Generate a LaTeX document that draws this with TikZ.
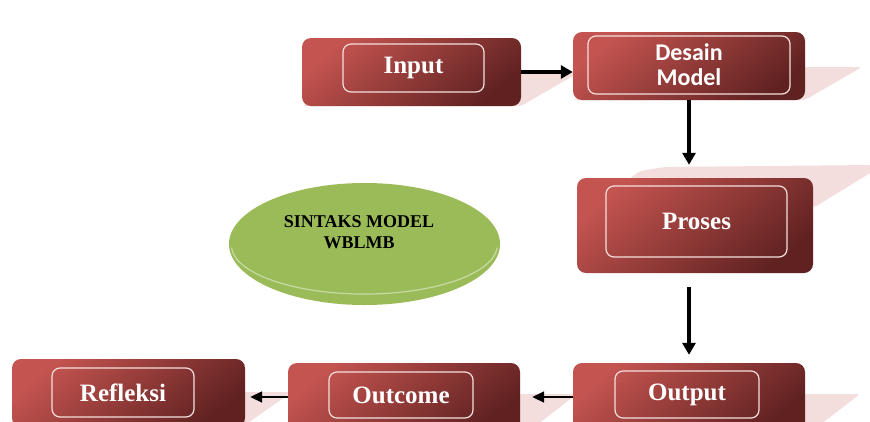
\documentclass[tikz,border=0pt]{standalone}
\usepackage{fontspec}
\setmainfont{Liberation Serif}
\newfontfamily\calib{Carlito}
\usetikzlibrary{arrows.meta,calc,shapes.geometric}
\definecolor{redA}{RGB}{196,84,80}
\definecolor{redB}{RGB}{96,34,33}
\definecolor{shd}{RGB}{244,222,221}
\definecolor{innerline}{RGB}{244,224,222}
\definecolor{grn}{RGB}{155,187,89}
\begin{document}
\begin{tikzpicture}[x=1pt,y=-1pt,
  outerbox/.style={rectangle,draw=none,rounded corners=9pt,top color=redA,bottom color=redB,shading angle=40,inner sep=0pt},
  innerbox/.style={rectangle,draw=innerline,line width=1.2pt,rounded corners=8pt,inner sep=0pt,text=white,font=\bfseries\fontsize{25}{25}\selectfont},
  shadowshape/.style={fill=shd,draw=none,rounded corners=3pt},
  arr/.style={line width=3.5pt,-{Triangle[length=12pt,width=13pt]}},
  arrthin/.style={line width=1.7pt,-{Triangle[length=12pt,width=11pt]}}]
\useasboundingbox (0,0) rectangle (870,421);
\clip (0,0) rectangle (870,421);
% perspective shadows
\fill[shadowshape] (302,106) -- (359,73) -- (578,73) -- (521,106) -- cycle;
\fill[shadowshape] (573,100) -- (630,67) -- (862,67) -- (805,100) -- cycle;
\fill[shadowshape] (600,200) -- (640,171) -- (665,167) -- (872,165) -- (872,172) -- (813,208) -- (813,200) -- cycle;
\fill[shadowshape] (573,431) -- (630,394) -- (860,394) -- (812,431) -- cycle;
\fill[shadowshape] (288,431) -- (345,394) -- (577,394) -- (529,431) -- cycle;
\fill[shadowshape] (12,427) -- (60,392) -- (292,392) -- (245,425) -- cycle;
% outer boxes
\node[outerbox,minimum width=219pt,minimum height=68pt] (in) at (411.5,72) {};
\node[outerbox,minimum width=232pt,minimum height=68pt] (des) at (689,66) {};
\node[outerbox,minimum width=236pt,minimum height=95pt] (pro) at (695,225.5) {};
\node[outerbox,minimum width=232pt,minimum height=68pt] (out) at (689,397) {};
\node[outerbox,minimum width=232pt,minimum height=68pt] (oc) at (404,397) {};
\node[outerbox,minimum width=233pt,minimum height=68pt] (ref) at (128.5,393) {};
% inner boxes with labels
\node[innerbox,minimum width=141pt,minimum height=48pt] (inI) at (413.5,68) {Input};
\node[innerbox,minimum width=202pt,minimum height=58pt,align=center,font=\calib\bfseries\fontsize{24}{25}\selectfont] (desI) at (689,65) {Desain\\Model};
\node[innerbox,minimum width=181pt,minimum height=71pt] (proI) at (696.5,221.5) {Proses};
\node[innerbox,minimum width=144pt,minimum height=47pt] (outI) at (687,394.5) {Output};
\node[innerbox,minimum width=144pt,minimum height=46pt] (ocI) at (401,395) {Outcome};
\node[innerbox,minimum width=142pt,minimum height=49pt] (refI) at (123,392.5) {Refleksi};
% ellipse
\node[ellipse,fill=grn,draw=none,minimum width=271pt,minimum height=122pt] (el) at (364.5,244) {};
\draw[white,opacity=0.45,line width=1.2pt] (231.5,247.6) arc[start angle=177,end angle=3,x radius=133,y radius=49];
\node[align=center,font=\bfseries\fontsize{18}{21}\selectfont,text=black] (elt) at (359,232) {SINTAKS MODEL\\WBLMB};
% connectors
\draw[arr] (in.east) -- (in.east -| des.west);
\draw[arr,shorten >=13pt] (des.south) -- (des.south |- pro.north);
\draw[arr,shorten <=14pt,shorten >=8pt] (pro.south -| des.south) -- (out.north);
\draw[arrthin,shorten >=12pt] (out.west) -- (out.west -| oc.east);
\draw[arrthin,shorten >=5pt] (oc.west) -- (oc.west -| ref.east);
\end{tikzpicture}
\end{document}
